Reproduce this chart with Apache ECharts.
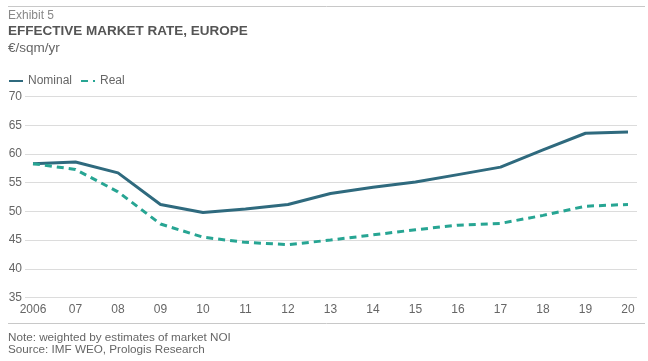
<!DOCTYPE html>
<html>
<head>
<meta charset="utf-8">
<script src="https://cdn.jsdelivr.net/npm/echarts@6/dist/echarts.min.js"></script>
<style>html,body{margin:0;padding:0;background:#fff}#c{width:648px;height:361px}</style>
</head>
<body>
<div id="c"></div>
<script>
const years = ['2006','07','08','09','10','11','12','13','14','15','16','17','18','19','20'];
const nominal = [58.3,58.6,56.7,51.2,49.8,50.4,51.2,53.1,54.2,55.1,56.4,57.7,60.7,63.6,63.8];
const real = [58.3,57.3,53.4,47.8,45.5,44.6,44.2,45.0,45.9,46.8,47.6,47.9,49.3,50.9,51.2];
const yMin = 35, yMax = 70, yStep = 5;

const FONT = '"Liberation Sans", Arial, sans-serif';
const chart = echarts.init(document.getElementById('c'), null, {renderer:'canvas'});
const gTop = 96.5, gH = 201;
const tStyle = (size, color, weight) => ({fontSize:size, fontWeight:weight||'normal', color:color, fontFamily:FONT});
chart.setOption({
  animation:false,
  textStyle:{fontFamily:FONT},
  title:[
    {text:'Exhibit 5', left:3, top:4.5, padding:5, textStyle:tStyle(12,'#888')},
    {text:'EFFECTIVE MARKET RATE, EUROPE', left:3, top:19, padding:5, textStyle:tStyle(13.5,'#555','bold')},
    {text:'€/sqm/yr', left:3, top:36, padding:5, textStyle:tStyle(13.5,'#666')},
    {text:'Note: weighted by estimates of market NOI', left:3, top:327, padding:5, textStyle:tStyle(11.7,'#666')},
    {text:'Source: IMF WEO, Prologis Research', left:3, top:339, padding:5, textStyle:tStyle(11.7,'#666')}
  ],
  legend:{
    left:3, top:70, padding:5, itemWidth:14, itemHeight:3, itemGap:8,
    itemStyle:{opacity:0},
    textStyle:{fontSize:12, color:'#666', fontFamily:FONT},
    data:['Nominal','Real']
  },
  graphic:[
    {type:'line', shape:{x1:8,y1:6.5,x2:645,y2:6.5}, style:{stroke:'#c8c8c8', lineWidth:1}},
    {type:'line', shape:{x1:8,y1:323.5,x2:645,y2:323.5}, style:{stroke:'#c8c8c8', lineWidth:1}}
  ],
  grid:[
    {left:25, right:11, top:gTop, height:gH},
    {left:33, right:20, top:gTop, height:gH}
  ],
  xAxis:[
    {type:'value', gridIndex:0, show:false, min:0, max:1},
    {type:'category', gridIndex:1, data:years, boundaryGap:false,
     axisLine:{show:false}, axisTick:{show:false},
     axisLabel:{color:'#666', fontSize:12, margin:6, fontFamily:FONT}, splitLine:{show:false}}
  ],
  yAxis:[
    {type:'value', gridIndex:0, min:yMin, max:yMax, interval:yStep,
     axisLine:{show:false}, axisTick:{show:false},
     axisLabel:{color:'#666', fontSize:12, margin:3, fontFamily:FONT},
     splitLine:{lineStyle:{color:'#dcdcdc', width:1}}},
    {type:'value', gridIndex:1, min:yMin, max:yMax, interval:yStep, show:false, splitLine:{show:false}}
  ],
  series:[
    {name:'Nominal', type:'line', xAxisIndex:1, yAxisIndex:1, data:nominal, symbol:'none',
     lineStyle:{color:'#2f6a7e', width:3}, itemStyle:{color:'#2f6a7e'}},
    {name:'Real', type:'line', xAxisIndex:1, yAxisIndex:1, data:real, symbol:'none',
     lineStyle:{color:'#27a593', width:3, type:[7,5]}, itemStyle:{color:'#27a593'}}
  ]
});
</script>
</body>
</html>
